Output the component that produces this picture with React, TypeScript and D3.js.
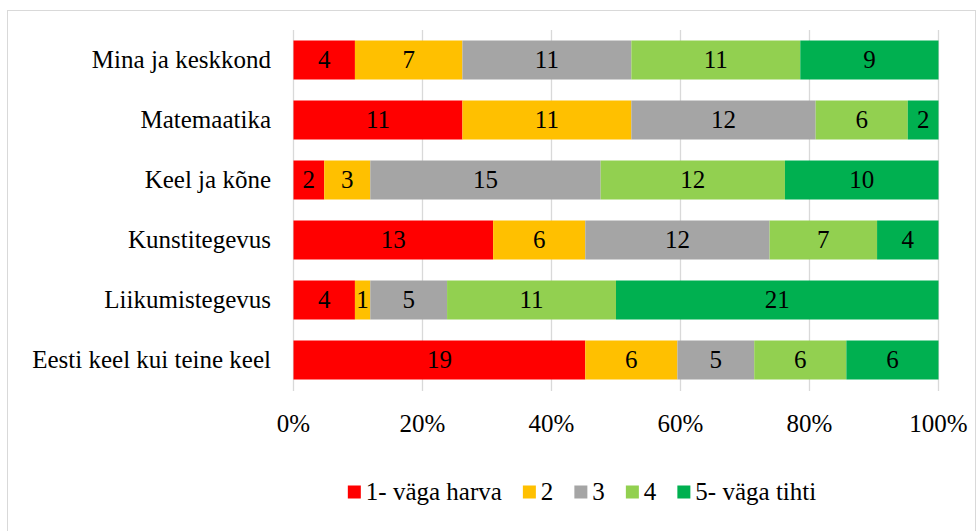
import React, { useEffect, useRef } from "react";
import * as d3 from "d3";

const categories = [
  "Mina ja keskkond",
  "Matemaatika",
  "Keel ja kõne",
  "Kunstitegevus",
  "Liikumistegevus",
  "Eesti keel kui teine keel",
];
const seriesNames = ["1- väga harva", "2", "3", "4", "5- väga tihti"];
const s1 = [4, 11, 2, 13, 4, 19];
const s2 = [7, 11, 3, 6, 1, 6];
const s3 = [11, 12, 15, 12, 5, 5];
const s4 = [11, 6, 12, 7, 11, 6];
const s5 = [9, 2, 10, 4, 21, 6];
const seriesValues = [s1, s2, s3, s4, s5];
const colors = ["#FF0000", "#FFC000", "#A5A5A5", "#92D050", "#00B050"];
const tickValues = [0, 0.2, 0.4, 0.6, 0.8, 1];

const W = 977;
const H = 531;
const FS = 25;
const FONT = "'Liberation Serif', 'Times New Roman', serif";

export default function App() {
  const ref = useRef<SVGSVGElement>(null);

  useEffect(() => {
    const svg = d3.select(ref.current!);
    svg.selectAll("*").remove();

    const x = d3.scaleLinear().domain([0, 1]).range([293.5, 938.5]);
    const y = d3
      .scaleBand<string>()
      .domain(categories)
      .range([30, 390])
      .paddingInner(0.35)
      .paddingOuter(0.175);

    const rows = categories.map((c, i) => {
      const obj: any = { cat: c };
      seriesNames.forEach((s, j) => (obj[s] = seriesValues[j][i]));
      return obj;
    });
    const stacked = d3
      .stack<any>()
      .keys(seriesNames)
      .offset(d3.stackOffsetExpand)(rows);

    svg.append("rect").attr("width", W).attr("height", H).attr("fill", "#fff");
    svg
      .append("rect")
      .attr("x", 7.5)
      .attr("y", 10.5)
      .attr("width", 968)
      .attr("height", 540)
      .attr("fill", "#fff")
      .attr("stroke", "#d9d9d9");

    svg
      .append("g")
      .selectAll("line")
      .data(tickValues)
      .join("line")
      .attr("x1", (d) => x(d))
      .attr("x2", (d) => x(d))
      .attr("y1", 30)
      .attr("y2", 391)
      .attr("stroke", "#d9d9d9")
      .attr("stroke-width", 1.3);

    const txt = (g: any) =>
      g
        .attr("font-family", FONT)
        .style("font-family", FONT)
        .attr("font-size", FS)
        .attr("fill", "#000");

    stacked.forEach((layer, j) => {
      const g = svg.append("g");
      layer.forEach((d, i) => {
        const x0 = x(d[0]);
        const x1 = x(d[1]);
        const yy = y(categories[i])!;
        g.append("rect")
          .attr("x", x0)
          .attr("y", yy)
          .attr("width", x1 - x0)
          .attr("height", y.bandwidth())
          .attr("fill", colors[j]);
        g.append("text")
          .attr("x", (x0 + x1) / 2)
          .attr("y", yy + y.bandwidth() / 2 + 8)
          .attr("text-anchor", "middle")
          .call(txt)
          .text(seriesValues[j][i]);
      });
    });

    categories.forEach((c) => {
      svg
        .append("text")
        .attr("x", 271)
        .attr("y", y(c)! + y.bandwidth() / 2 + 8)
        .attr("text-anchor", "end")
        .call(txt)
        .text(c);
    });

    tickValues.forEach((t) => {
      svg
        .append("text")
        .attr("x", x(t))
        .attr("y", 432)
        .attr("text-anchor", "middle")
        .call(txt)
        .text(d3.format(".0%")(t));
    });

    // legend, laid out with measured text widths
    const legendY = 492;
    const sq = 13;
    const gapText = 5;
    const gapItem = 21;
    const lg = svg.append("g");
    const items = seriesNames.map((s, i) => {
      const g = lg.append("g");
      g.append("rect")
        .attr("y", legendY - sq / 2)
        .attr("width", sq)
        .attr("height", sq)
        .attr("fill", colors[i]);
      const t = g
        .append("text")
        .attr("x", sq + gapText)
        .attr("y", legendY + 8)
        .call(txt)
        .text(s);
      const w = (t.node() as SVGTextElement).getComputedTextLength();
      return { g, w };
    });
    const total =
      items.reduce((a, b) => a + b.w, 0) +
      items.length * (sq + gapText) +
      (items.length - 1) * gapItem;
    let lx = (335 + 829) / 2 - total / 2;
    items.forEach((it) => {
      it.g.attr("transform", `translate(${lx},0)`);
      lx += sq + gapText + it.w + gapItem;
    });
  }, []);

  return (
    <svg
      ref={ref}
      width={W}
      height={H}
      style={{ position: "absolute", left: 0, top: 0, fontFamily: FONT }}
    />
  );
}
